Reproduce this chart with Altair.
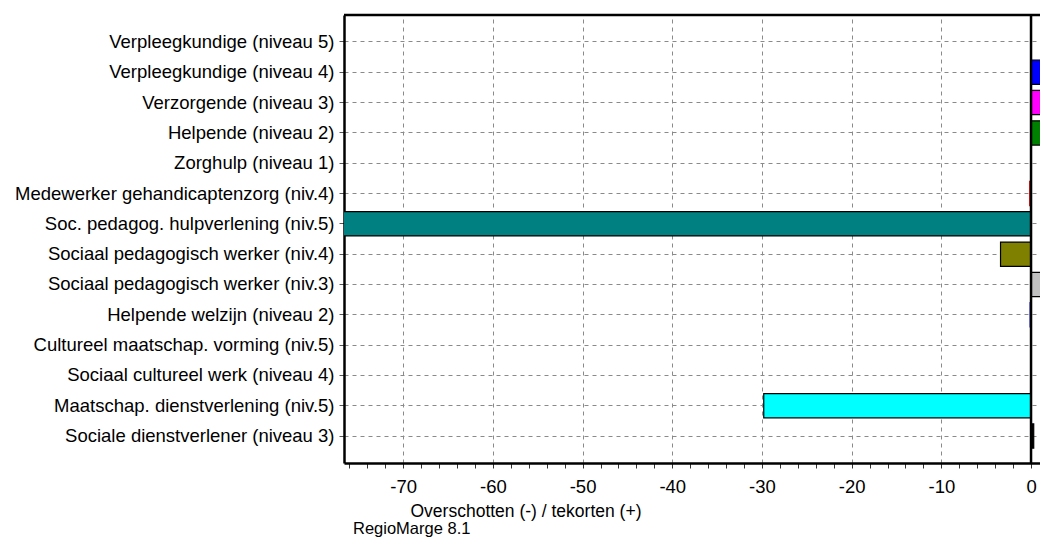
import altair as alt
import pandas as pd

CATEGORIES = [
    "Verpleegkundige (niveau 5)",
    "Verpleegkundige (niveau 4)",
    "Verzorgende (niveau 3)",
    "Helpende (niveau 2)",
    "Zorghulp (niveau 1)",
    "Medewerker gehandicaptenzorg (niv.4)",
    "Soc. pedagog. hulpverlening (niv.5)",
    "Sociaal pedagogisch werker (niv.4)",
    "Sociaal pedagogisch werker (niv.3)",
    "Helpende welzijn (niveau 2)",
    "Cultureel maatschap. vorming (niv.5)",
    "Sociaal cultureel werk (niveau 4)",
    "Maatschap. dienstverlening (niv.5)",
    "Sociale dienstverlener (niveau 3)",
]
VALUES = [0, 5.0, 5.0, 5.0, 0, -0.15, -85.0, -3.4, 1.2, -0.1, 0, 0, -29.8, 0.3]
COLORS = ["#ffffff", "#0000ff", "#ff00ff", "#008000", "#ffffff", "#ff0000",
          "#008080", "#808000", "#c0c0c0", "#0000ff", "#ffffff", "#ffffff",
          "#00ffff", "#000000"]
X_TICKS = [-76, -74, -72, -70, -68, -66, -64, -62, -60, -58, -56, -54, -52, -50,
           -48, -46, -44, -42, -40, -38, -36, -34, -32, -30, -28, -26, -24, -22,
           -20, -18, -16, -14, -12, -10, -8, -6, -4, -2, 0]
X_DOMAIN = [-76.6, 1.0]
X_TITLE = "Overschotten (-) / tekorten (+)"
FOOTER = "RegioMarge 8.1"

FONT = "Liberation Sans"
FS = 18.5
W, H = 696, 448

df = pd.DataFrame({"cat": CATEGORIES, "value": VALUES, "color": COLORS})

x_scale = alt.Scale(domain=X_DOMAIN, nice=False, zero=False)
y_scale = alt.Scale(domain=CATEGORIES, paddingInner=0.2, paddingOuter=0.49)

bars = alt.Chart(df).mark_bar(clip=True, strokeWidth=1.2).encode(
    x=alt.X("value:Q", scale=x_scale,
            axis=alt.Axis(
                values=X_TICKS,
                tickCount=200,
                labelOverlap=False,
                labelExpr="datum.value % 10 === 0 ? '' + datum.value : ''",
                grid=True,
                gridDash=[4, 4],
                gridColor="#8a8a8a",
                gridWidth=1,
                gridOpacity={"condition": {"test": "datum.value % 10 === 0", "value": 1}, "value": 0},
                tickSize=5,
                tickColor="#333333",
                domainColor="#000000",
                domainWidth=2.5,
                labelFont=FONT,
                labelFontSize=FS,
                labelColor="#000000",
                labelPadding=9,
                title=X_TITLE,
                titleFont=FONT,
                titleFontSize=17.5,
                titleFontWeight="normal",
                titleColor="#000000",
                titleAlign="left",
                titleAnchor="start",
                titleBaseline="middle",
                titleX=66,
                titleY=48,
            )),
    x2=alt.datum(0),
    y=alt.Y("cat:N", scale=y_scale, sort=CATEGORIES,
            axis=alt.Axis(
                title=None,
                bandPosition=0.5,
                grid=True,
                gridDash=[4, 4],
                gridColor="#8a8a8a",
                tickSize=5,
                tickColor="#555555",
                domainColor="#000000",
                domainWidth=2.5,
                labelFont=FONT,
                labelFontSize=FS,
                labelColor="#000000",
                labelPadding=5,
                labelLimit=400,
            )),
    fill=alt.Fill("color:N", scale=None, legend=None),
    stroke=alt.condition("abs(datum.value) < 0.5",
                         alt.Stroke("color:N", scale=None, legend=None),
                         alt.value("#000000")),
)

zero_rule = alt.Chart(pd.DataFrame({"z": [0]})).mark_rule(
    color="#000000", strokeWidth=2.5
).encode(x=alt.X("z:Q", scale=x_scale))

top_border = alt.Chart(pd.DataFrame({"t": [0]})).mark_rule(
    color="#000000", strokeWidth=2.5
).encode(x=alt.value(0), x2=alt.value(W), y=alt.value(0))

footer = alt.Chart(pd.DataFrame({"label": [FOOTER]})).mark_text(
    align="left", baseline="middle", font=FONT, fontSize=16.5, color="#000000"
).encode(x=alt.value(9), y=alt.value(H + 66), text="label:N")

chart = alt.layer(bars, zero_rule, top_border, footer).properties(
    width=W, height=H,
    autosize=alt.AutoSizeParams(type="none"),
    padding={"left": 336, "top": 7, "right": 0, "bottom": 75},
).configure_view(stroke=None).configure(background="#ffffff")

chart.save("out.html", embed_options={"renderer": "svg", "actions": False})
